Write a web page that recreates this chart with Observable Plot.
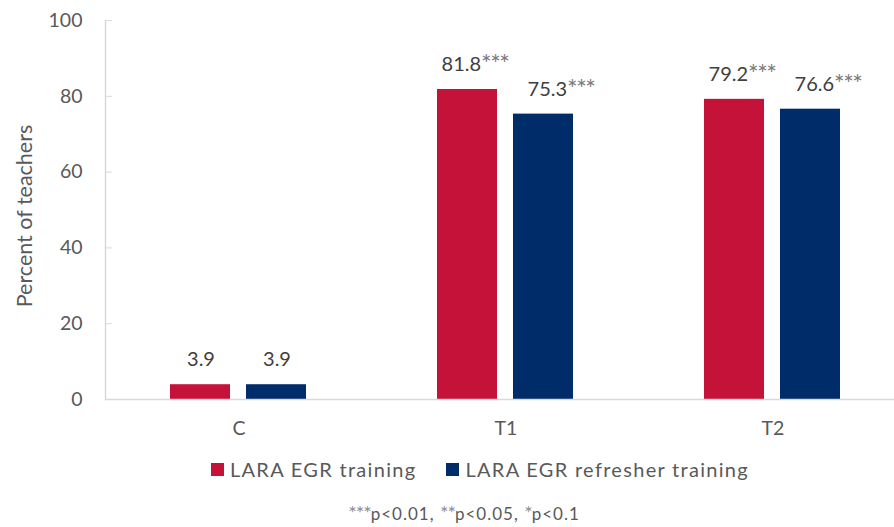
<!DOCTYPE html>
<html><head><meta charset="utf-8">
<script src="https://cdn.jsdelivr.net/npm/d3@7"></script>
<script src="https://cdn.jsdelivr.net/npm/@observablehq/plot@0.6"></script>
<style>
body{margin:0;background:#fff;font-family:Lato,"Open Sans",sans-serif;width:894px;overflow:hidden;}
#legend{display:flex;justify-content:center;align-items:center;margin-top:12px;padding-left:66px;height:24px;font-size:20px;letter-spacing:1.3px;color:#595959;}
#legend .item{display:flex;align-items:center;margin:0 15px;}
#legend .sw{width:13px;height:13px;margin-right:6px;display:inline-block;}
#caption{text-align:center;padding-left:34px;margin-top:19px;font-size:17px;letter-spacing:1px;color:#595959;}
#caption .ast{color:#8c8c8c;font-size:20px;letter-spacing:-1px;}
</style></head><body>
<div id="chart"></div>
<div id="legend"></div>
<div id="caption"><span class="ast">***</span>p&lt;0.01, <span class="ast">**</span>p&lt;0.05, <span class="ast">*</span>p&lt;0.1</div>
<script>
const groups = ["C", "T1", "T2"];
const seriesNames = ["LARA EGR training", "LARA EGR refresher training"];
const trainingValues = [3.9, 81.8, 79.2];
const refresherValues = [3.9, 75.3, 76.6];
const trainingSig = ["", "***", "***"];
const refresherSig = ["", "***", "***"];
const yTicks = [0, 20, 40, 60, 80, 100];
const colors = ["#C41239", "#002D6A"];

const rows = [];
groups.forEach((g, i) => {
  rows.push({group: g, series: seriesNames[0], value: trainingValues[i], sig: trainingSig[i]});
  rows.push({group: g, series: seriesNames[1], value: refresherValues[i], sig: refresherSig[i]});
});
const red = rows.filter(d => d.series === seriesNames[0]);
const blue = rows.filter(d => d.series === seriesNames[1]);
const lab = d => d.value.toFixed(1) + d.sig;

const chart = Plot.plot({
  width: 894,
  height: 445,
  marginLeft: 105,
  marginRight: 0,
  marginTop: 20,
  marginBottom: 46,
  style: {fontFamily: "Lato, 'Open Sans', sans-serif", fontSize: "19px", background: "#fff"},
  x: {domain: groups, range: [105, 906], padding: 0, axis: null},
  y: {domain: [0, 100], axis: null},
  marks: [
    Plot.barY(red, {x: "group", y: "value", fill: colors[0], insetLeft: 65, insetRight: 142}),
    Plot.barY(blue, {x: "group", y: "value", fill: colors[1], insetLeft: 141, insetRight: 66}),
    Plot.ruleY([0], {stroke: "#d9d9d9", strokeWidth: 1.5}),
    Plot.frame({anchor: "left", stroke: "#d9d9d9", strokeWidth: 1.5}),
    Plot.axisY({ticks: yTicks, tickSize: -7, tickPadding: 30, stroke: "#d9d9d9", color: "#595959", fill: "#595959", fontSize: 19.5, label: null}),
    Plot.axisX({tickSize: 0, tickPadding: 22, color: "#595959", fill: "#595959", fontSize: 19.5, label: null}),
    Plot.text(["Percent of teachers"], {frameAnchor: "left", textAnchor: "middle", rotate: -90, dx: -80, dy: 6, fill: "#595959", fontSize: 21.5}),
    Plot.text(red.filter(d => !d.sig), {x: "group", y: "value", text: lab, dx: -38, dy: -25, fill: "#404040", fontSize: 20, className: "vlab"}),
    Plot.text(blue.filter(d => !d.sig), {x: "group", y: "value", text: lab, dx: 38, dy: -25, fill: "#404040", fontSize: 20, className: "vlab"}),
    Plot.text(red.filter(d => d.sig), {x: "group", y: "value", text: lab, dx: -31, dy: -25, fill: "#404040", fontSize: 20, className: "vlab"}),
    Plot.text(blue.filter(d => d.sig), {x: "group", y: "value", text: lab, dx: 55, dy: -25, fill: "#404040", fontSize: 20, className: "vlab"})
  ]
});
document.getElementById("chart").appendChild(chart);

// colour the significance stars lighter
chart.querySelectorAll("g.vlab text").forEach(t => {
  const s = t.textContent;
  const m = s.match(/^([^*]*)(\*+)$/);
  if (m) {
    t.textContent = "";
    const a = document.createElementNS("http://www.w3.org/2000/svg", "tspan");
    a.textContent = m[1];
    const b = document.createElementNS("http://www.w3.org/2000/svg", "tspan");
    b.textContent = m[2];
    b.setAttribute("fill", "#7a7a7a");
    b.setAttribute("font-size", "25");
    b.setAttribute("letter-spacing", "-1.5");
    b.setAttribute("dy", "2");
    t.appendChild(a); t.appendChild(b);
  }
});

const legend = document.getElementById("legend");
seriesNames.forEach((n, i) => {
  const item = document.createElement("div");
  item.className = "item";
  const sw = document.createElement("span");
  sw.className = "sw";
  sw.style.background = colors[i];
  const tx = document.createElement("span");
  tx.textContent = n;
  item.appendChild(sw); item.appendChild(tx);
  legend.appendChild(item);
});
</script>
</body></html>
